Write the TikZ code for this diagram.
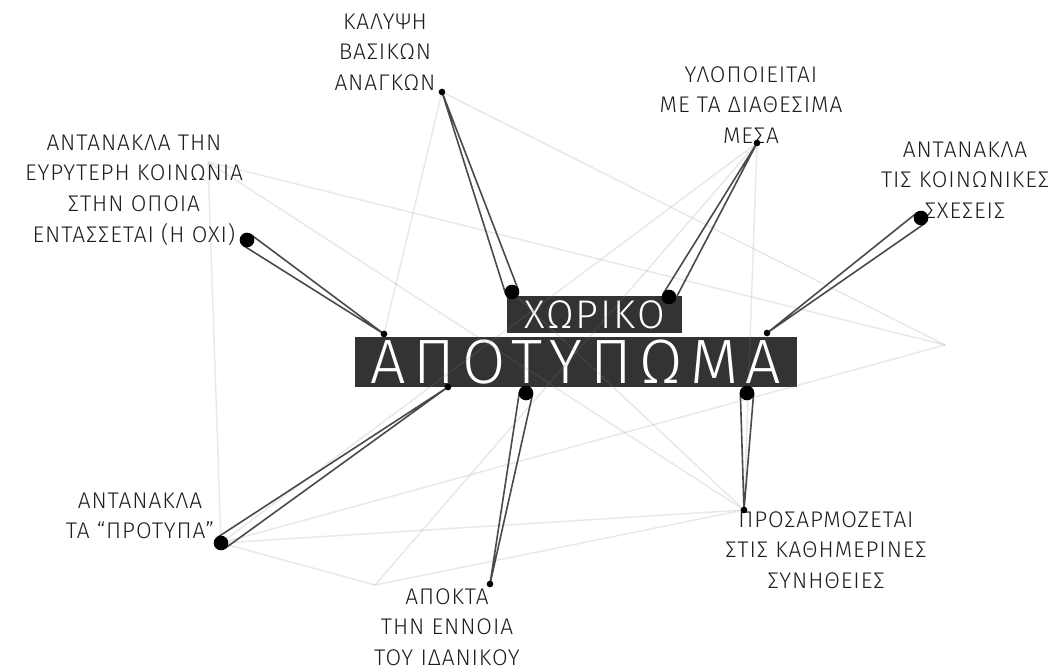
\documentclass[tikz,border=0pt]{standalone}
\usepackage{fontspec}
\usetikzlibrary{calc}
\newfontfamily\lblfont[LetterSpace=4]{Fira Sans Light}
\newfontfamily\boxfont[LetterSpace=5]{Fira Sans Light}
\newfontfamily\bigboxfont[LetterSpace=12]{Fira Sans Light}
\definecolor{boxgray}{HTML}{333333}
\definecolor{needlegray}{HTML}{4A4A4A}
\definecolor{txtgray}{HTML}{1E1E1E}
\pgfdeclarelayer{front}
\pgfsetlayers{main,front}

\tikzstyle{lblNode} = [align=center, text=txtgray, inner sep=0pt, font=\lblfont\fontsize{17}{23}\selectfont]
\tikzstyle{boxNode} = [rectangle, fill=boxgray, text=white, inner sep=0pt]
\tikzstyle{dotBig} = [circle, fill=black, minimum size=11pt, inner sep=0pt]
\tikzstyle{dotSmall} = [circle, fill=black, minimum size=5pt, inner sep=0pt]
\tikzstyle{needle} = [draw=needlegray, line width=1.2pt]
\tikzstyle{web} = [draw=gray, line width=1.1pt, opacity=0.18]

\begin{document}
\begin{tikzpicture}[x=0.75pt, y=-0.75pt]
    \useasboundingbox (0,0) rectangle (1060,670);

    \node (xoriko)[boxNode, minimum width=131pt, minimum height=28pt, font=\boxfont\fontsize{30}{30}\selectfont] at (594.5,314.5) {ΧΩΡΙΚΟ};
    \node (apotyp)[boxNode, minimum width=331.5pt, minimum height=37.5pt, font=\bigboxfont\fontsize{47}{47}\selectfont] at (576,362) {ΑΠΟΤΥΠΩΜΑ};

    \node (kalLbl)[lblNode] at (385,52) {ΚΑΛΥΨΗ\\ΒΑΣΙΚΩΝ\\ΑΝΑΓΚΩΝ};
    \node (ylopLbl)[lblNode] at (751,105) {ΥΛΟΠΟΙΕΙΤΑΙ\\ΜΕ ΤΑ ΔΙΑΘΕΣΙΜΑ\\ΜΕΣΑ};
    \node (sxeLbl)[lblNode] at (965,180) {ΑΝΤΑΝΑΚΛΑ\\ΤΙΣ ΚΟΙΝΩΝΙΚΕΣ\\ΣΧΕΣΕΙΣ};
    \node (eyrLbl)[lblNode] at (134,190) {ΑΝΤΑΝΑΚΛΑ ΤΗΝ\\ΕΥΡΥΤΕΡΗ ΚΟΙΝΩΝΙΑ\\ΣΤΗΝ ΟΠΟΙΑ\\ΕΝΤΑΣΣΕΤΑΙ (Η ΟΧΙ)};
    \node (protLbl)[lblNode] at (140,516) {ΑΝΤΑΝΑΚΛΑ\\ΤΑ “ΠΡΟΤΥΠΑ”};
    \node (apoLbl)[lblNode] at (447,627) {ΑΠΟΚΤΑ\\ΤΗΝ ΕΝΝΟΙΑ\\ΤΟΥ ΙΔΑΝΙΚΟΥ};
    \node (prosLbl)[lblNode] at (826,550) {ΠΡΟΣΑΡΜΟΖΕΤΑΙ\\ΣΤΙΣ ΚΑΘΗΜΕΡΙΝΕΣ\\ΣΥΝΗΘΕΙΕΣ};

    \begin{pgfonlayer}{front}
    \node (kalS)[dotSmall] at (442,92) {};
    \node (kalB)[dotBig] at (512,292) {};
    \node (ylopS)[dotSmall] at (757,143) {};
    \node (ylopB)[dotBig] at (669,297) {};
    \node (sxeS)[dotSmall] at (767,333) {};
    \node (sxeB)[dotBig] at (921,218) {};
    \node (eyrS)[dotSmall] at (384,334) {};
    \node (eyrB)[dotBig] at (247,240) {};
    \node (protS)[dotSmall] at (448,387) {};
    \node (protB)[dotBig] at (221,543) {};
    \node (apoS)[dotSmall] at (490,584) {};
    \node (apoB)[dotBig] at (526,393) {};
    \node (prosS)[dotSmall] at (744,510) {};
    \node (prosB)[dotBig] at (747,393) {};
    \end{pgfonlayer}

    \coordinate (webC) at (208,162);
    \coordinate (webD) at (945,345);
    \coordinate (webG) at (375,585);

    \draw [web] (webC) -- (webD);
    \draw [web] (webC) -- (prosS.center);
    \draw [web] (webC) -- (protB.center);
    \draw [web] (kalS.center) -- (webD);
    \draw [web] (kalS.center) -- (eyrS.center);
    \draw [web] (ylopS.center) -- (protB.center);
    \draw [web] (ylopS.center) -- (prosS.center);
    \draw [web] (ylopS.center) -- (webG);
    \draw [web] (webD) -- (protB.center);
    \draw [web] (protB.center) -- (prosS.center);
    \draw [web] (protB.center) -- (webG);
    \draw [web] (webG) -- (prosS.center);
    \draw [web] (kalB.center) -- (prosS.center);

    \draw [needle] ($(kalB.center)!5pt!90:(kalS.center)$) -- (kalS.center) -- ($(kalB.center)!5pt!-90:(kalS.center)$);
    \draw [needle] ($(ylopB.center)!5pt!90:(ylopS.center)$) -- (ylopS.center) -- ($(ylopB.center)!5pt!-90:(ylopS.center)$);
    \draw [needle] ($(sxeB.center)!5pt!90:(sxeS.center)$) -- (sxeS.center) -- ($(sxeB.center)!5pt!-90:(sxeS.center)$);
    \draw [needle] ($(eyrB.center)!5pt!90:(eyrS.center)$) -- (eyrS.center) -- ($(eyrB.center)!5pt!-90:(eyrS.center)$);
    \draw [needle] ($(protB.center)!5pt!90:(protS.center)$) -- (protS.center) -- ($(protB.center)!5pt!-90:(protS.center)$);
    \draw [needle] ($(apoB.center)!5pt!90:(apoS.center)$) -- (apoS.center) -- ($(apoB.center)!5pt!-90:(apoS.center)$);
    \draw [needle] ($(prosB.center)!5pt!90:(prosS.center)$) -- (prosS.center) -- ($(prosB.center)!5pt!-90:(prosS.center)$);
\end{tikzpicture}
\end{document}
